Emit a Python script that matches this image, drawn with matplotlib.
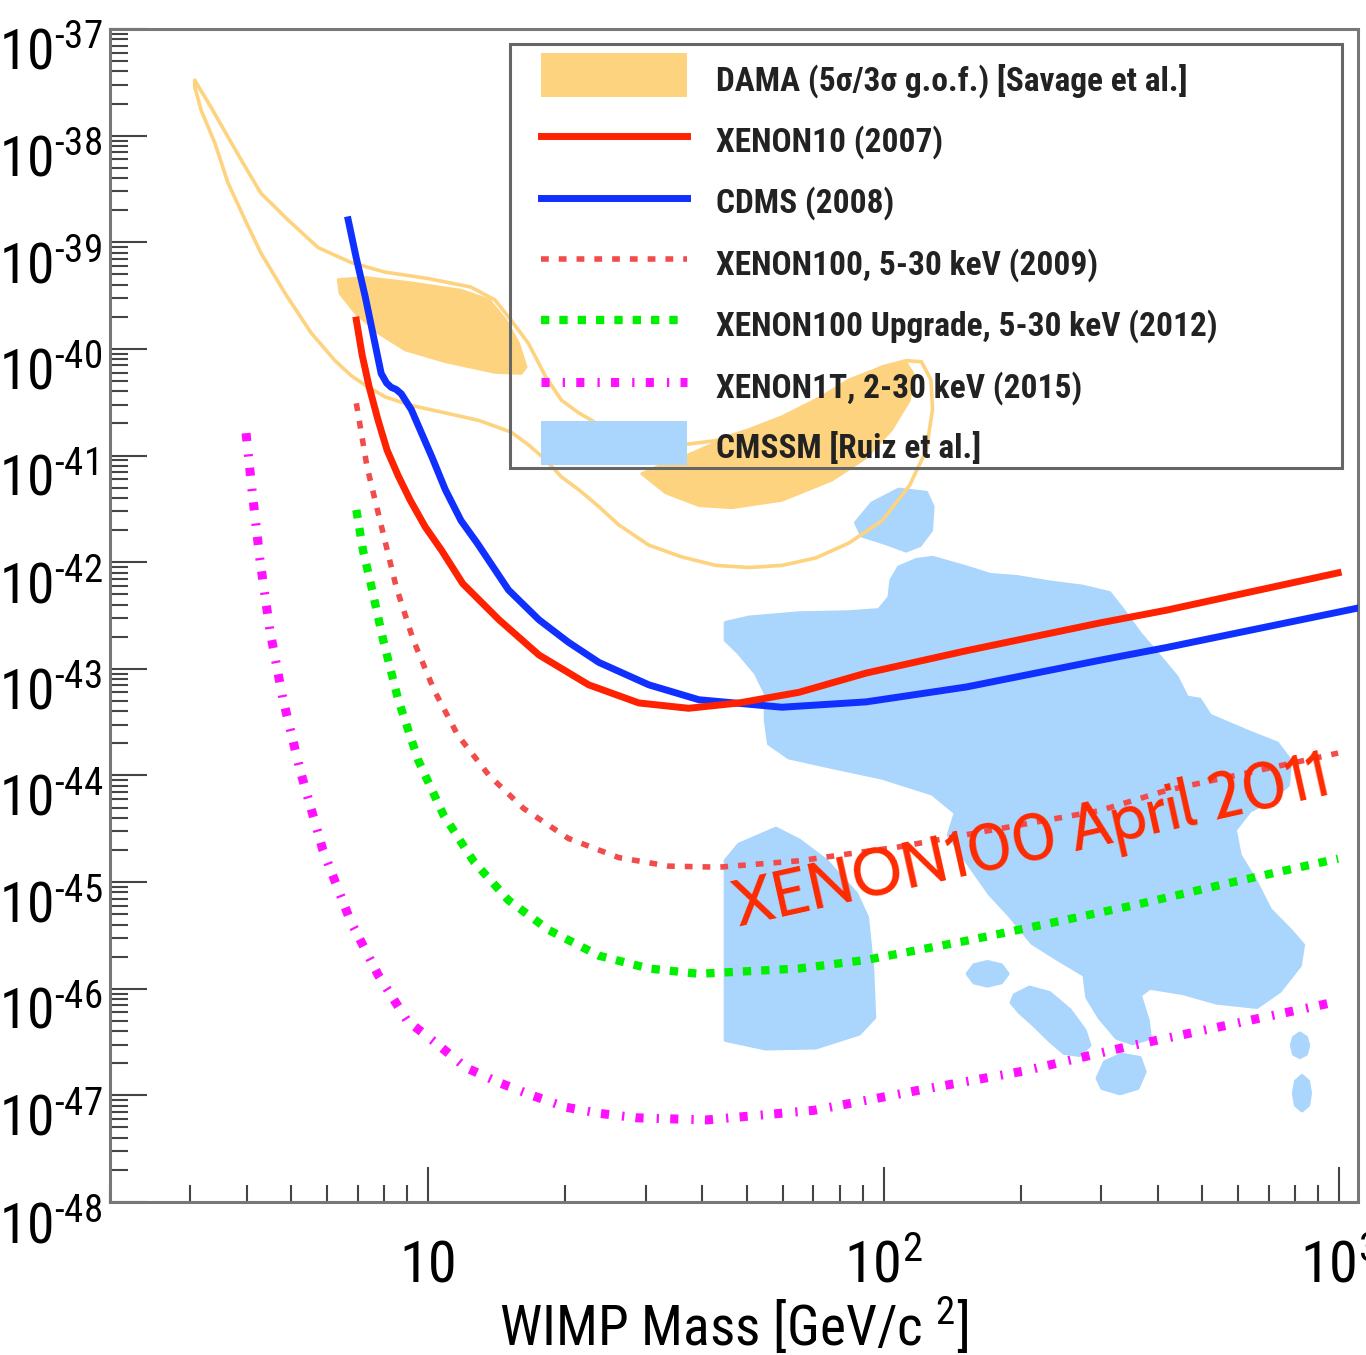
import numpy as np
import matplotlib
matplotlib.use("Agg")
import matplotlib.pyplot as plt
import matplotlib.transforms as mtransforms
from matplotlib.patches import Rectangle
from matplotlib.ticker import LogLocator, NullFormatter

# ROOT/Helvetica look of the original is horizontally squeezed -> condensed font
plt.rcParams['font.family'] = ['Roboto Condensed', 'Liberation Sans', 'DejaVu Sans']
plt.rcParams['mathtext.fontset'] = 'custom'
plt.rcParams['mathtext.rm'] = 'Roboto Condensed'
plt.rcParams['mathtext.default'] = 'regular'

# WIMP mass [GeV/c^2] and log10(sigma [cm^2])
xe10_mass = [6.95, 7.16, 7.42, 7.76, 8.12, 8.59, 9.13, 9.85, 10.7, 11.9, 14.3, 17.5,
             22.5, 29.0, 37.3, 48.1, 65.2, 91.5, 152, 298, 418, 995]
xe10_logsig = [-39.73, -40.06, -40.36, -40.67, -40.95, -41.19, -41.42, -41.67, -41.89,
               -42.20, -42.54, -42.87, -43.15, -43.32, -43.37, -43.32, -43.22, -43.04,
               -42.83, -42.57, -42.45, -42.10]

cdms_mass = [6.67, 6.95, 7.27, 7.57, 7.88, 8.10, 8.29, 8.50, 8.72, 9.18, 10.2, 10.9, 11.8,
             12.8, 15.0, 17.5, 20.3, 23.7, 30.5, 39.3, 59.8, 91.5, 152, 298, 418, 1100]
cdms_logsig = [-38.79, -39.15, -39.51, -39.87, -40.23, -40.32, -40.36, -40.38, -40.42,
               -40.57, -41.02, -41.32, -41.61, -41.82, -42.26, -42.54, -42.75, -42.94,
               -43.15, -43.29, -43.36, -43.31, -43.17, -42.92, -42.80, -42.43]

xe100_mass = [6.95, 7.34, 7.96, 8.50, 9.27, 10.3, 11.6, 13.6, 16.2, 20.3, 26.2, 33.7,
              43.5, 65.2, 108, 179, 298, 418, 995]
xe100_logsig = [-40.51, -41.11, -41.73, -42.23, -42.73, -43.20, -43.62, -44.00, -44.31,
                -44.59, -44.77, -44.85, -44.86, -44.80, -44.67, -44.50, -44.33, -44.14,
                -43.79]

xe100up_mass = [6.95, 7.19, 7.53, 7.96, 8.59, 9.51, 10.8, 12.6, 15.0, 18.4, 23.7, 30.5,
                39.3, 65.2, 91.5, 152, 212, 352, 585, 995]
xe100up_logsig = [-41.51, -41.89, -42.26, -42.73, -43.29, -43.86, -44.37, -44.81, -45.17,
                  -45.45, -45.69, -45.81, -45.86, -45.81, -45.73, -45.55, -45.42, -45.22,
                  -45.00, -44.78]

xe1t_mass = [3.98, 4.10, 4.27, 4.49, 4.80, 5.23, 5.87, 6.74, 7.76, 8.99, 10.4, 12.1,
             14.3, 16.9, 20.0, 23.9, 28.7, 33.9, 40.9, 70.3, 120, 204, 345, 585, 990]
xe1t_logsig = [-40.79, -41.32, -41.98, -42.64, -43.29, -43.95, -44.70, -45.36, -45.87,
               -46.30, -46.51, -46.74, -46.88, -47.00, -47.11, -47.17, -47.21, -47.22,
               -47.23, -47.14, -46.95, -46.77, -46.54, -46.33, -46.12]

# DAMA: 3 sigma outline and the two filled regions
dama_ctr_mass = [3.07, 3.33, 3.63, 3.96, 4.29, 4.92, 5.73, 6.77, 8.04, 10.0, 12.4, 14.0,
                 15.2, 16.6, 18.1, 19.6, 21.4, 23.7, 26.2, 30.5, 36.0, 42.8, 50.6, 59.8,
                 71.0, 83.9, 99.2, 112, 121, 127, 128, 124, 114, 99.2, 83.9, 71.0, 59.8,
                 50.6, 42.8, 36.0, 30.5, 26.2, 23.7, 21.4, 19.6, 18.1, 16.6, 15.2, 12.9,
                 10.9, 9.18, 8.04, 7.27, 6.77, 6.24, 5.53, 4.85, 4.29, 3.96, 3.63, 3.40,
                 3.17, 3.07]
dama_ctr_logsig = [-37.48, -37.73, -38.01, -38.29, -38.54, -38.79, -39.05, -39.19, -39.28,
                   -39.34, -39.42, -39.54, -39.73, -39.95, -40.26, -40.48, -40.60, -40.71,
                   -40.81, -40.90, -40.90, -40.86, -40.76, -40.64, -40.48, -40.32, -40.17,
                   -40.11, -40.12, -40.29, -40.57, -40.95, -41.28, -41.61, -41.82, -41.96,
                   -42.03, -42.05, -42.03, -41.95, -41.84, -41.65, -41.48, -41.32, -41.20,
                   -41.04, -40.90, -40.78, -40.67, -40.60, -40.53, -40.45, -40.34, -40.25,
                   -40.11, -39.85, -39.48, -39.10, -38.79, -38.44, -38.07, -37.76, -37.54]

dama_lo_mass = [6.34, 7.27, 9.18, 11.8, 13.6, 14.8, 15.8, 16.4, 16.0, 14.0, 10.9, 8.90,
                7.76, 6.91, 6.40]
dama_lo_logsig = [-39.35, -39.33, -39.38, -39.45, -39.54, -39.73, -39.95, -40.17, -40.23,
                  -40.22, -40.12, -40.01, -39.85, -39.66, -39.48]

dama_hi_mass = [29.4, 33.2, 39.3, 46.4, 59.8, 77.0, 91.5, 104, 114, 116, 112, 99.2, 83.9,
                71.0, 59.8, 50.6, 42.8, 36.0, 31.6]
dama_hi_logsig = [-41.17, -41.35, -41.47, -41.49, -41.42, -41.23, -41.02, -40.76, -40.48,
                  -40.23, -40.13, -40.17, -40.29, -40.48, -40.64, -40.76, -40.88, -41.02,
                  -41.11]

# CMSSM (Ruiz et al.) islands
cmssm_a_mass = [87.0, 94.3, 108, 124, 128, 127, 120, 112, 101, 89.7]
cmssm_a_logsig = [-41.63, -41.45, -41.32, -41.35, -41.48, -41.70, -41.84, -41.89, -41.82,
                  -41.75]

cmssm_b_mass = [45.0, 50.6, 65.2, 83.9, 97.7, 103, 104, 108, 118, 128, 152, 171, 196, 231,
                273, 313, 335, 365, 404, 440, 463, 494, 520, 637, 731, 780, 772, 705, 637,
                590, 605, 653, 705, 780, 833, 820, 741, 660, 539, 454, 384, 365, 380, 384,
                352, 325, 298, 280, 276, 243, 212, 189, 171, 152, 139, 144, 128, 99.2,
                77.0, 61.9, 56.0, 55.1, 55.1, 52.4, 48.1, 45.0]
cmssm_b_logsig = [-42.57, -42.52, -42.48, -42.47, -42.45, -42.33, -42.17, -42.05, -41.98,
                  -41.96, -42.05, -42.12, -42.14, -42.19, -42.23, -42.29, -42.45, -42.67,
                  -42.89, -43.08, -43.27, -43.29, -43.44, -43.60, -43.70, -43.86, -44.09,
                  -44.23, -44.33, -44.51, -44.75, -44.98, -45.26, -45.45, -45.59, -45.78,
                  -46.02, -46.17, -46.13, -46.04, -45.99, -46.06, -46.30, -46.46, -46.51,
                  -46.46, -46.27, -46.08, -45.87, -45.73, -45.57, -45.31, -45.11, -44.80,
                  -44.56, -44.35, -44.17, -44.02, -43.92, -43.83, -43.70, -43.48, -43.23,
                  -43.04, -42.85, -42.73]

cmssm_c_mass = [58.0, 65.2, 74.7, 87.0, 91.9, 94.3, 95.3, 88.3, 71.0, 55.1, 45.0, 45.0, 48.1]
cmssm_c_logsig = [-44.50, -44.61, -44.80, -45.11, -45.33, -45.80, -46.27, -46.42, -46.55,
                  -46.56, -46.48, -44.80, -44.65]

cmssm_d_mass = [153, 158, 169, 181, 187, 181, 169, 158]
cmssm_d_logsig = [-45.86, -45.78, -45.75, -45.78, -45.86, -45.94, -45.97, -45.94]

cmssm_e_mass = [194, 209, 231, 256, 276, 283, 269, 249, 231, 214, 199, 191]
cmssm_e_logsig = [-46.06, -45.99, -46.04, -46.20, -46.39, -46.53, -46.62, -46.60, -46.48,
                  -46.34, -46.22, -46.13]

cmssm_f_mass = [295, 306, 333, 365, 374, 361, 330, 302]
cmssm_f_logsig = [-46.84, -46.69, -46.62, -46.65, -46.78, -46.93, -46.98, -46.93]

cmssm_g_mass = [788, 796, 820, 846, 855, 846, 820, 796]
cmssm_g_logsig = [-46.53, -46.46, -46.42, -46.46, -46.53, -46.61, -46.64, -46.61]

cmssm_h_mass = [796, 804, 829, 855, 863, 855, 829, 804]
cmssm_h_logsig = [-46.98, -46.87, -46.82, -46.87, -46.98, -47.09, -47.14, -47.09]

legend_labels = ['DAMA (5σ/3σ g.o.f.) [Savage et al.]', 'XENON10 (2007)', 'CDMS (2008)',
                 'XENON100, 5-30 keV (2009)', 'XENON100 Upgrade, 5-30 keV (2012)',
                 'XENON1T, 2-30 keV (2015)', 'CMSSM [Ruiz et al.]']

DAMA_C = '#fed380'
CMSSM_C = '#aad5fc'
sty_xe10 = dict(color='#ff2200', lw=5, ls='-')
sty_cdms = dict(color='#1030ff', lw=5, ls='-')
sty_xe100 = dict(color='#f24b4b', lw=4, ls=(0, (1.4, 1.8)))
sty_xe100up = dict(color='#00f000', lw=6, ls=(0, (1.0, 1.2)))
sty_xe1t = dict(color='#ff10ff', lw=6.5, ls=(0, (0.9, 1.45, 0.25, 1.25)))


def sig(logs):
    return 10.0 ** np.asarray(logs)


fig = plt.figure(figsize=(13.66, 13.55), dpi=100)
ax = fig.add_axes([0.0805, 0.1129, 0.9136, 0.8657])
ax.set_xscale('log')
ax.set_yscale('log')

for m, s in [(cmssm_a_mass, cmssm_a_logsig), (cmssm_b_mass, cmssm_b_logsig),
             (cmssm_c_mass, cmssm_c_logsig), (cmssm_d_mass, cmssm_d_logsig),
             (cmssm_e_mass, cmssm_e_logsig), (cmssm_f_mass, cmssm_f_logsig),
             (cmssm_g_mass, cmssm_g_logsig), (cmssm_h_mass, cmssm_h_logsig)]:
    ax.fill(m, sig(s), fc=CMSSM_C, ec=CMSSM_C, lw=3, joinstyle='round', zorder=1)

ax.fill(dama_lo_mass, sig(dama_lo_logsig), fc=DAMA_C, ec=DAMA_C, lw=2, joinstyle='round', zorder=2)
ax.fill(dama_hi_mass, sig(dama_hi_logsig), fc=DAMA_C, ec=DAMA_C, lw=2, joinstyle='round', zorder=2)
ax.fill(dama_ctr_mass, sig(dama_ctr_logsig), fill=False, ec=DAMA_C, lw=2.6, joinstyle='round', zorder=2)

ax.plot(xe1t_mass, sig(xe1t_logsig), zorder=3, **sty_xe1t)
ax.plot(xe100up_mass, sig(xe100up_logsig), zorder=3, **sty_xe100up)
ax.plot(xe100_mass, sig(xe100_logsig), zorder=3, **sty_xe100)
ax.plot(cdms_mass, sig(cdms_logsig), zorder=4, **sty_cdms)
ax.plot(xe10_mass, sig(xe10_logsig), zorder=4, **sty_xe10)

ax.text(212, sig(-44.64), 'XENON100 April 2011', color='#ff2a00', fontsize=47,
        family=['Cabin', 'Lato', 'DejaVu Sans'], rotation=12.6, rotation_mode='anchor',
        ha='center', va='center', zorder=7)

# legend drawn by hand so the box matches the original layout
ax.add_patch(Rectangle((0.3205, 0.6257), 0.6667, 0.3615, transform=ax.transAxes,
                       fill=False, ec='#666666', lw=2.2, zorder=6))
handles = [DAMA_C, sty_xe10, sty_cdms, sty_xe100, sty_xe100up, sty_xe1t, CMSSM_C]
row_y = 0.9608 - 0.0523 * np.arange(len(legend_labels))
hx0, hx1, tx = 0.3454, 0.4623, 0.4856
for y, h, lab in zip(row_y, handles, legend_labels):
    if isinstance(h, str):
        ax.add_patch(Rectangle((hx0, y - 0.019), hx1 - hx0, 0.038, transform=ax.transAxes,
                               fc=h, ec='none', zorder=6))
    else:
        ax.plot([hx0, hx1], [y, y], transform=ax.transAxes, zorder=6, **h)
    ax.text(tx, y - 0.005, lab, transform=ax.transAxes, fontsize=24, fontweight='bold',
            color='#222222', ha='left', va='center', zorder=7)

ax.set_xlim(2, 1100)
ax.set_ylim(1e-48, 1e-37)

# axes: ROOT-like inward ticks, big labels
ax.set_xticks([10, 100, 1000], ['10', '$10^{2}$', '$10^{3}$'])
ax.xaxis.set_minor_locator(LogLocator(base=10, subs=np.arange(2, 10)))
ax.xaxis.set_minor_formatter(NullFormatter())
yexp = np.arange(-48, -36)
ax.set_yticks(10.0 ** yexp, [r'$10^{\text{-}%d}$' % -e for e in yexp])
ax.yaxis.set_minor_locator(LogLocator(base=10, subs=np.arange(2, 10), numticks=40))
ax.yaxis.set_minor_formatter(NullFormatter())

ax.tick_params(which='both', direction='in', color='#444444', width=1.5,
               top=False, right=False)
ax.tick_params(axis='x', which='major', length=25, pad=58, labelsize=42)
ax.tick_params(axis='x', which='minor', length=12)
ax.tick_params(axis='y', which='major', length=26.6, pad=80, labelsize=40)
ax.tick_params(axis='y', which='minor', length=13)

for lab in ax.get_xticklabels():
    lab.set_va('baseline')
shift = mtransforms.ScaledTranslation(0, -0.40, fig.dpi_scale_trans)
for lab in ax.get_yticklabels():
    lab.set_ha('left')
    lab.set_va('baseline')
    lab.set_transform(lab.get_transform() + shift)

ax.set_xlabel('WIMP Mass [GeV/c $^{2}$]', fontsize=40)
ax.xaxis.set_label_coords(0.5, -0.1219)
ax.xaxis.label.set_va('baseline')

for sp in ax.spines.values():
    sp.set_color('#777777')
    sp.set_linewidth(2.2)

fig.savefig('out.png', dpi=100)
